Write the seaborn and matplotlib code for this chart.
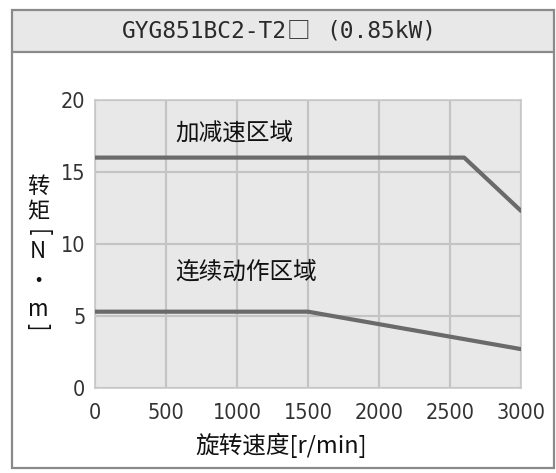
import matplotlib
matplotlib.use("Agg")
import matplotlib.pyplot as plt
import matplotlib.patches as mpatches
import seaborn as sns
import pandas as pd

# ---- data ----
speed_accel = [0, 2600, 3000]
torque_accel = [16, 16, 12.3]
speed_cont = [0, 1500, 3000]
torque_cont = [5.3, 5.3, 2.7]
x_ticks = [0, 500, 1000, 1500, 2000, 2500, 3000]
y_ticks = [0, 5, 10, 15, 20]
title_parts = ["GYG851BC2-T2", "□", "(0.85kW)"]
label_accel = "加减速区域"
label_cont = "连续动作区域"
xlabel_text = "旋转速度[r/min]"
ylabel_chars = ["转", "矩", "[", "N", "·", "m", "]"]

sns.set_style("white")
plt.rcParams['font.family'] = ['Noto Sans CJK SC', 'DejaVu Sans']

W, H = 556, 473
fig = plt.figure(figsize=(W / 100, H / 100), dpi=100)
fig.patch.set_facecolor('white')

def fx(x):
    return x / W

def fy(y):
    return 1 - y / H

# outer frame and title band
band = mpatches.Rectangle((fx(12), fy(52)), fx(554) - fx(12), fy(10) - fy(52),
                          transform=fig.transFigure, facecolor='#e8e8e8',
                          edgecolor='none', zorder=0)
fig.add_artist(band)
frame = mpatches.Rectangle((fx(12), fy(468)), fx(554) - fx(12), fy(10) - fy(468),
                           transform=fig.transFigure, facecolor='none',
                           edgecolor='#8a8a8a', linewidth=1.6, zorder=5)
fig.add_artist(frame)
fig.add_artist(plt.Line2D([fx(12), fx(554)], [fy(52), fy(52)], transform=fig.transFigure,
                          color='#8a8a8a', linewidth=1.6, zorder=5))
mono = ['DejaVu Sans Mono', 'Noto Sans CJK SC']
fig.text(fx(122), fy(31), title_parts[0], ha='left', va='center', fontsize=16.5,
         family=mono, color='#2a2a2a')
fig.text(fx(298), fy(31), title_parts[1], ha='center', va='center', fontsize=17,
         family=['Noto Sans CJK SC'], color='#2a2a2a')
fig.text(fx(326), fy(31), title_parts[2], ha='left', va='center', fontsize=16.5,
         family=mono, color='#2a2a2a')

ax = fig.add_axes([fx(95), fy(388), fx(521) - fx(95), fy(100) - fy(388)])
ax.set_facecolor('#e8e8e8')

df_a = pd.DataFrame({'speed': speed_accel, 'torque': torque_accel})
df_c = pd.DataFrame({'speed': speed_cont, 'torque': torque_cont})
sns.lineplot(data=df_a, x='speed', y='torque', ax=ax, color='#6a6a6a', linewidth=3, zorder=3)
sns.lineplot(data=df_c, x='speed', y='torque', ax=ax, color='#6a6a6a', linewidth=3, zorder=3)

ax.set_xlim(0, 3000)
ax.set_ylim(0, 20)
ax.set_xticks(x_ticks)
ax.set_yticks(y_ticks)
ax.grid(True, color='#c4c4c4', linewidth=1.6)
ax.set_axisbelow(True)
for s in ax.spines.values():
    s.set_color('#c8c8c8')
    s.set_linewidth(1.2)
ax.tick_params(length=0)
ax.tick_params(axis='x', pad=11)
ax.tick_params(axis='y', pad=7)
for lab in ax.get_xticklabels() + ax.get_yticklabels():
    lab.set_fontfamily('DejaVu Sans')
    lab.set_fontstretch('condensed')
    lab.set_fontsize(15.5)
    lab.set_color('#333333')
ax.set_xlabel('')
ax.set_ylabel('')

fig.text(fx(175), fy(133), label_accel, ha='left', va='center', fontsize=17, color='#111111')
fig.text(fx(175), fy(272), label_cont, ha='left', va='center', fontsize=17, color='#111111')
fig.text(fx(281), fy(445), xlabel_text, ha='center', va='center', fontsize=17, color='#111111')

ypos = [186, 212, 233, 251, 281, 309, 327]
for ch, yp in zip(ylabel_chars, ypos):
    rot = -90 if ch in '[]' else 0
    fig.text(fx(38), fy(yp), ch, ha='center', va='center', fontsize=16,
             rotation=rot, color='#111111')

fig.savefig('out.png', dpi=100)
